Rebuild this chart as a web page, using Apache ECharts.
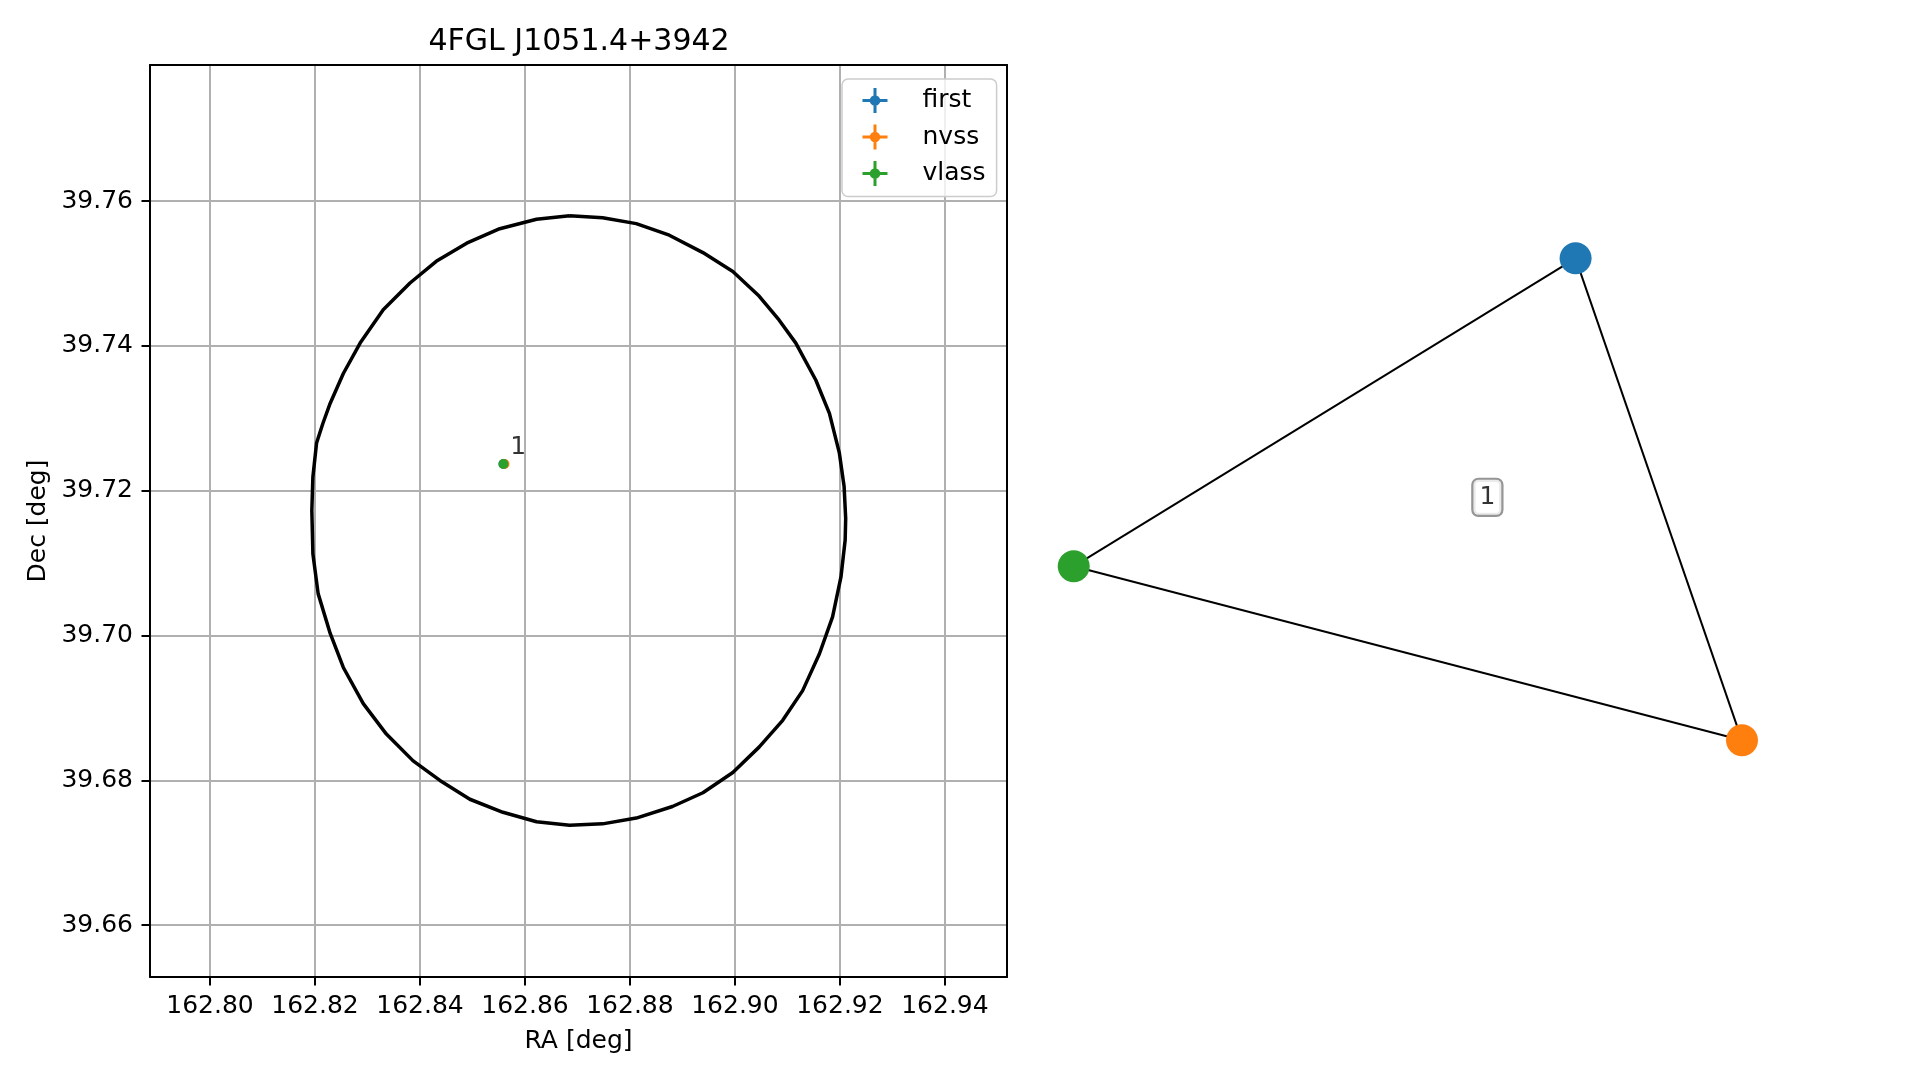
<!DOCTYPE html>
<html><head><meta charset="utf-8">
<script src="https://cdn.jsdelivr.net/npm/echarts@6/dist/echarts.min.js"></script>
<style>html,body{margin:0;padding:0;background:#fff}#c{width:1919px;height:1080px}</style>
</head><body><div id="c"></div>
<script>
// ---- data ----
const titleText = '4FGL J1051.4+3942';
const xAxisName = 'RA [deg]';
const yAxisName = 'Dec [deg]';
const xTicks = [162.80, 162.82, 162.84, 162.86, 162.88, 162.90, 162.92, 162.94];
const yTicks = [39.66, 39.68, 39.70, 39.72, 39.74, 39.76];
const xRange = [162.78857, 162.95183];
const yRange = [39.65285, 39.77881];

const sourceNames = ['first', 'nvss', 'vlass'];
const sourceColors = ['#1f77b4', '#ff7f0e', '#2ca02c'];
const sourceRA = [162.8559, 162.8561, 162.8559];
const sourceDec = [39.7237, 39.7237, 39.7237];

const ellipseRA = [162.8685,162.8748,162.8812,162.8875,162.8939,162.8996,162.9046,162.9084,162.9116,162.9154,
  162.9180,162.9199,162.9208,162.9211,162.9210,162.9202,162.9186,162.9161,162.9129,162.9091,
  162.9046,162.8996,162.8939,162.8881,162.8812,162.8748,162.8685,162.8622,162.8558,162.8495,
  162.8438,162.8387,162.8336,162.8292,162.8254,162.8229,162.8206,162.8196,162.8194,162.8196,
  162.8203,162.8215,162.8229,162.8254,162.8286,162.8330,162.8381,162.8431,162.8489,162.8552,
  162.8622,162.8685];
const ellipseDec = [39.7580,39.7577,39.7569,39.7553,39.7529,39.7503,39.7469,39.7436,39.7404,39.7353,
  39.7307,39.7252,39.7206,39.7162,39.7132,39.7081,39.7026,39.6975,39.6924,39.6883,
  39.6846,39.6811,39.6783,39.6764,39.6748,39.6740,39.6738,39.6743,39.6756,39.6774,
  39.6800,39.6827,39.6864,39.6906,39.6956,39.7003,39.7058,39.7113,39.7173,39.7219,
  39.7266,39.7293,39.7321,39.7362,39.7404,39.7450,39.7487,39.7517,39.7542,39.7562,
  39.7575,39.7580];

const annRA = [162.8587];
const annDec = [39.72605];
const annText = ['1'];

const nodeNames = ['first', 'nvss', 'vlass'];
const nodeX = [0.502, 1.0, -1.0];
const nodeY = [1.0, -1.0, -0.278];
const edgeSource = [0, 1, 2];
const edgeTarget = [1, 2, 0];
const boxLabelX = [0.238];
const boxLabelY = [0.008];
const boxLabelText = ['1'];

// ---- chart ----
const FONT = 'DejaVu Sans';
const chart = echarts.init(document.getElementById('c'), null, {renderer: 'canvas'});
const errIcon = 'path://M0 8.8L20 8.8L20 11.2L0 11.2Z M8.8 0L11.2 0L11.2 20L8.8 20Z M14.2 10A4.2 4.2 0 1 1 5.8 10A4.2 4.2 0 1 1 14.2 10Z';
const fmt = (ticks) => (v) => ticks.some(t => Math.abs(t - v) < 1e-6) ? v.toFixed(2) : '';
const spine = {show: true, onZero: false, lineStyle: {color: '#000', width: 2}};
const tickStyle = {color: '#000', width: 2};

const series = [];
series.push({
  type: 'line', name: 'ellipse', xAxisIndex: 0, yAxisIndex: 0,
  data: ellipseRA.map((x, i) => [x, ellipseDec[i]]),
  symbol: 'none', smooth: false, lineStyle: {color: '#000', width: 3.5}, z: 3, silent: true
});
sourceNames.forEach((n, i) => {
  series.push({
    type: 'scatter', name: n, xAxisIndex: 0, yAxisIndex: 0,
    data: [[sourceRA[i], sourceDec[i]]], symbol: 'circle', symbolSize: 10,
    itemStyle: {color: sourceColors[i], opacity: 1}, z: 4 + i, silent: true
  });
});
series.push({
  type: 'scatter', name: 'annotation', xAxisIndex: 0, yAxisIndex: 0,
  data: annRA.map((x, i) => ({value: [x, annDec[i]], name: annText[i]})),
  symbolSize: 0, silent: true, z: 8,
  label: {show: true, position: 'inside', formatter: p => p.name, fontSize: 25, color: '#000', fontFamily: FONT}
});
series.push({
  type: 'graph', coordinateSystem: 'cartesian2d', xAxisIndex: 2, yAxisIndex: 2,
  data: nodeNames.map((n, i) => ({name: 'node-' + n, value: [nodeX[i], nodeY[i]], itemStyle: {color: sourceColors[i]}})),
  links: edgeSource.map((s, i) => ({source: s, target: edgeTarget[i]})),
  symbol: 'circle', symbolSize: 32, lineStyle: {color: '#000', width: 2, opacity: 1, curveness: 0},
  label: {show: false}, emphasis: {disabled: true}, silent: true, z: 2
});
series.push({
  type: 'scatter', name: 'edgeLabel', xAxisIndex: 2, yAxisIndex: 2,
  data: boxLabelX.map((x, i) => ({value: [x, boxLabelY[i]], name: boxLabelText[i]})),
  symbolSize: 0, silent: true, z: 9,
  label: {show: true, position: 'inside', formatter: p => p.name, fontSize: 25, color: '#000', fontFamily: FONT,
    backgroundColor: '#fff', borderColor: '#7a7a7a', borderWidth: 2.2, borderRadius: 5, padding: [5, 6]}
});

chart.setOption({
  animation: false,
  backgroundColor: '#fff',
  title: {text: titleText, left: 428.5, top: 27.5, padding: 0,
    textStyle: {fontSize: 30, fontWeight: 'normal', color: '#000', fontFamily: FONT}},
  legend: {
    orient: 'vertical', left: 842, top: 79,
    data: sourceNames.map(n => ({name: n, icon: errIcon})),
    itemWidth: 25, itemHeight: 25, itemGap: 11.5,
    padding: [9, 11, 10.5, 20.5],
    backgroundColor: 'rgba(255,255,255,0.8)', borderColor: '#cccccc', borderWidth: 1.5, borderRadius: 6,
    textStyle: {fontSize: 25, color: '#000', fontFamily: FONT, padding: [0, 0, 0, 30]},
    selectedMode: false
  },
  grid: [
    {left: 150, top: 65, width: 857, height: 912},
    {left: 1040.3, top: 234.2, width: 735.1, height: 530.2}
  ],
  xAxis: [
    {gridIndex: 0, type: 'value', position: 'bottom', min: xRange[0], max: xRange[1],
      splitNumber: 8, minInterval: 0.02, maxInterval: 0.02,
      axisLine: spine,
      axisTick: {show: true, customValues: xTicks, length: 8.5, lineStyle: tickStyle},
      axisLabel: {customValues: xTicks, formatter: fmt(xTicks), fontSize: 25, color: '#000', margin: 17, fontFamily: FONT},
      splitLine: {show: true, lineStyle: {color: '#b0b0b0', width: 2}},
      name: xAxisName, nameLocation: 'middle', nameGap: 52,
      nameTextStyle: {fontSize: 25, color: '#000', fontFamily: FONT}},
    {gridIndex: 0, type: 'value', position: 'top', min: xRange[0], max: xRange[1],
      axisLine: spine, axisTick: {show: false}, axisLabel: {show: false}, splitLine: {show: false}},
    {gridIndex: 1, type: 'value', min: -1.1, max: 1.1, show: false}
  ],
  yAxis: [
    {gridIndex: 0, type: 'value', position: 'left', min: yRange[0], max: yRange[1],
      splitNumber: 6, minInterval: 0.02, maxInterval: 0.02,
      axisLine: spine,
      axisTick: {show: true, customValues: yTicks, length: 8.5, lineStyle: tickStyle},
      axisLabel: {customValues: yTicks, formatter: fmt(yTicks), fontSize: 25, color: '#000', margin: 17, fontFamily: FONT},
      splitLine: {show: true, lineStyle: {color: '#b0b0b0', width: 2}},
      name: yAxisName, nameLocation: 'middle', nameGap: 99,
      nameTextStyle: {fontSize: 25, color: '#000', fontFamily: FONT}},
    {gridIndex: 0, type: 'value', position: 'right', min: yRange[0], max: yRange[1],
      axisLine: spine, axisTick: {show: false}, axisLabel: {show: false}, splitLine: {show: false}},
    {gridIndex: 1, type: 'value', min: -1.1, max: 1.1, show: false}
  ],
  series: series
});
</script></body></html>
